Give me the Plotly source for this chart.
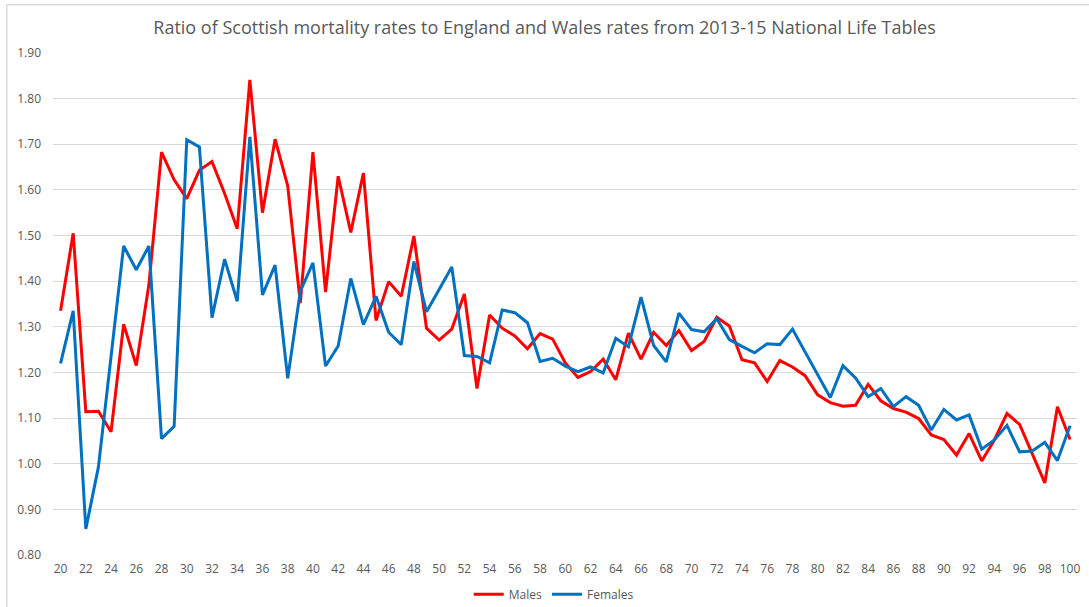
import plotly.graph_objects as go

ages = list(range(20, 101))

males = [
    1.335, 1.505, 1.114, 1.115, 1.070, 1.306, 1.215, 1.392, 1.683, 1.622,
    1.581, 1.643, 1.662, 1.592, 1.515, 1.841, 1.550, 1.711, 1.609, 1.352,
    1.683, 1.376, 1.630, 1.507, 1.637, 1.314, 1.399, 1.367, 1.499, 1.297,
    1.271, 1.295, 1.372, 1.165, 1.326, 1.297, 1.280, 1.252, 1.285, 1.273,
    1.221, 1.189, 1.202, 1.229, 1.184, 1.286, 1.229, 1.288, 1.259, 1.292,
    1.248, 1.268, 1.321, 1.302, 1.228, 1.221, 1.180, 1.226, 1.212, 1.193,
    1.151, 1.134, 1.126, 1.128, 1.174, 1.138, 1.121, 1.113, 1.099, 1.063,
    1.053, 1.019, 1.066, 1.006, 1.052, 1.110, 1.086, 1.023, 0.958, 1.125,
    1.053,
]

females = [
    1.220, 1.335, 0.857, 0.993, 1.235, 1.477, 1.425, 1.477, 1.055, 1.082,
    1.710, 1.694, 1.320, 1.448, 1.356, 1.716, 1.370, 1.435, 1.187, 1.378,
    1.440, 1.214, 1.258, 1.406, 1.305, 1.367, 1.288, 1.261, 1.443, 1.333,
    1.382, 1.431, 1.237, 1.235, 1.221, 1.337, 1.331, 1.309, 1.224, 1.231,
    1.214, 1.202, 1.212, 1.199, 1.275, 1.256, 1.365, 1.259, 1.223, 1.330,
    1.294, 1.289, 1.318, 1.272, 1.257, 1.243, 1.263, 1.261, 1.295, 1.245,
    1.195, 1.145, 1.215, 1.188, 1.147, 1.165, 1.125, 1.147, 1.128, 1.074,
    1.119, 1.096, 1.107, 1.032, 1.052, 1.084, 1.026, 1.028, 1.047, 1.007,
    1.083,
]

x_ticks = list(range(20, 101, 2))
y_ticks = [0.80, 0.90, 1.00, 1.10, 1.20, 1.30, 1.40, 1.50, 1.60, 1.70, 1.80, 1.90]

FONT = "Open Sans"
GREY = "#595959"

fig = go.Figure()
fig.add_trace(go.Scatter(x=ages, y=males, mode="lines", name="Males",
                         line=dict(color="#FF0000", width=3)))
fig.add_trace(go.Scatter(x=ages, y=females, mode="lines", name="Females",
                         line=dict(color="#0070C0", width=3)))

# chart-area border (left and top edges visible in the reference)
fig.add_shape(type="line", xref="paper", yref="paper", x0=-0.0452, x1=-0.0452,
              y0=-0.2, y1=1.0963, line=dict(color="#D9D9D9", width=1.5))
fig.add_shape(type="line", xref="paper", yref="paper", x0=-0.0452, x1=1.02,
              y0=1.0963, y1=1.0963, line=dict(color="#D9D9D9", width=1.5))

fig.update_layout(
    width=1089, height=607,
    paper_bgcolor="white", plot_bgcolor="white",
    margin=dict(l=53, r=12, t=53, b=52, autoexpand=False),
    title=dict(text="Ratio of Scottish mortality rates to England and Wales rates from 2013-15 National Life Tables",
               x=0.5, xanchor="center", y=1 - 28 / 607, yanchor="middle",
               font=dict(family=FONT, size=18, color=GREY)),
    font=dict(family=FONT, size=12, color=GREY),
    showlegend=True,
    legend=dict(orientation="h", x=0.489, xanchor="center", y=-0.078, yanchor="middle",
                font=dict(family=FONT, size=12, color=GREY), itemwidth=30,
                tracegroupgap=0),
    xaxis=dict(range=[19.4, 100.55], tickmode="array", tickvals=x_ticks,
               ticktext=[str(v) for v in x_ticks], showgrid=False, zeroline=False,
               showline=False, ticks="", automargin=False, ticklabelstandoff=5,
               tickfont=dict(family=FONT, size=12, color=GREY)),
    yaxis=dict(range=[0.80, 1.90], tickmode="array", tickvals=y_ticks,
               ticktext=[f"{v:.2f}" for v in y_ticks], showgrid=True,
               gridcolor="#D9D9D9", gridwidth=1, zeroline=False, showline=False,
               ticks="", automargin=False, ticklabelstandoff=11,
               tickfont=dict(family=FONT, size=12, color=GREY)),
)

fig.write_html("out.html", config={"displayModeBar": False},
               post_script="document.body.style.margin='0px';document.body.style.overflow='hidden';")
